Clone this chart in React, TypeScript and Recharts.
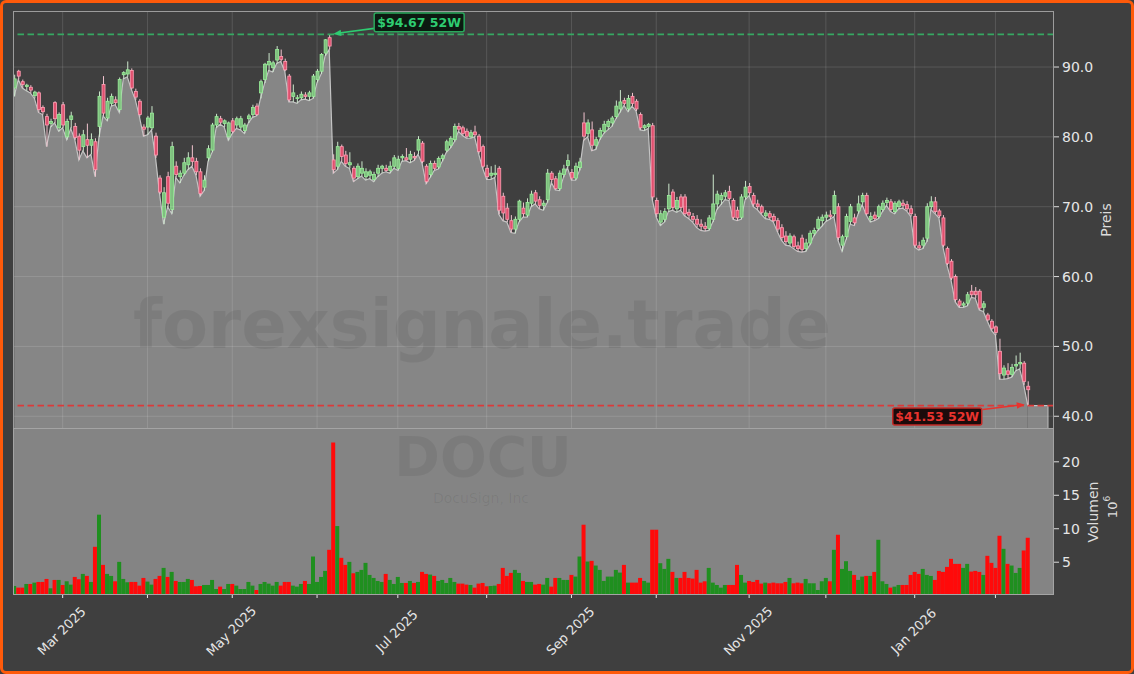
import React from 'react';
import { ComposedChart, Area, Bar, Cell, XAxis, YAxis, ReferenceLine, ReferenceArea, ReferenceDot } from 'recharts';

// DOCU daily candles, Feb 2025 - Feb 2026 (index = trading day)
const opens = [
  87.0, 89.4, 87.9, 87.2, 87.1, 85.9, 86.3, 84.2, 82.9, 81.9,
  84.9, 81.3, 84.6, 80.0, 82.5, 81.5, 80.1, 78.6, 79.6, 78.8,
  79.3, 81.5, 87.5, 82.7, 84.8, 85.3, 83.9, 88.9, 89.0, 89.5,
  86.5, 85.1, 81.4, 81.4, 81.3, 80.1, 74.1, 68.5, 74.3, 69.6,
  75.8, 74.3, 74.8, 76.0, 77.0, 76.5, 75.0, 72.8, 77.0, 78.1,
  81.7, 82.6, 81.9, 80.0, 82.3, 81.7, 81.4, 80.9, 82.6, 83.2,
  84.4, 86.3, 88.2, 90.3, 89.9, 91.0, 91.5, 90.8, 88.7, 85.8,
  85.5, 85.6, 86.0, 85.8, 85.8, 88.2, 89.4, 92.0, 94.2, 76.7,
  75.8, 78.6, 77.4, 76.0, 75.5, 74.3, 74.8, 74.3, 74.5, 73.9,
  74.8, 75.5, 75.5, 75.2, 75.8, 75.5, 77.0, 77.0, 76.8, 77.2,
  78.1, 79.1, 75.8, 74.6, 76.2, 75.7, 76.9, 78.1, 78.8, 79.6,
  81.5, 81.3, 80.8, 80.0, 80.7, 80.1, 78.6, 75.5, 74.5, 74.6,
  75.5, 71.5, 69.8, 68.0, 66.8, 68.2, 69.8, 68.8, 70.5, 72.0,
  71.0, 70.2, 71.0, 74.8, 74.0, 72.6, 74.6, 75.9, 74.9, 74.1,
  75.6, 82.0, 80.5, 81.0, 78.8, 80.0, 80.8, 81.5, 82.0, 82.9,
  84.0, 85.2, 84.0, 85.8, 85.1, 83.2, 81.3, 81.5, 81.6, 70.9,
  67.8, 68.2, 69.7, 72.1, 69.7, 71.4, 71.4, 69.2, 68.6, 68.2,
  67.5, 67.2, 66.9, 68.2, 70.4, 71.0, 71.5, 72.2, 70.9, 69.5,
  68.5, 71.4, 72.9, 71.6, 70.4, 70.0, 68.7, 69.0, 68.6, 68.0,
  67.0, 65.8, 64.8, 65.7, 64.4, 65.5, 64.0, 64.8, 66.2, 66.9,
  68.0, 68.5, 68.8, 69.0, 70.0, 64.5, 65.7, 67.9, 68.4, 69.4,
  70.7, 71.6, 68.2, 68.8, 68.6, 69.6, 70.6, 70.7, 69.3, 70.0,
  70.5, 70.3, 69.7, 68.6, 64.4, 64.5, 65.5, 70.0, 70.7, 69.4,
  68.4, 64.0, 62.2, 60.0, 56.5, 55.9, 56.2, 57.9, 57.9, 57.9,
  55.6, 54.5, 53.6, 52.8, 49.3, 45.9, 46.5, 46.0, 47.2, 47.5,
  47.6, 44.3,
];

const highs = [
  88.9, 89.6, 88.2, 87.6, 87.4, 86.6, 86.5, 84.5, 83.3, 82.6,
  85.1, 83.5, 85.0, 82.6, 83.6, 82.0, 80.5, 81.0, 81.9, 80.5,
  79.8, 86.5, 88.7, 85.6, 86.2, 85.8, 88.5, 89.4, 90.8, 89.8,
  86.9, 85.4, 81.8, 83.0, 84.4, 80.6, 74.5, 72.8, 75.0, 79.3,
  76.5, 75.2, 77.0, 77.8, 78.8, 77.0, 75.5, 74.5, 78.8, 82.0,
  83.3, 83.0, 82.5, 82.2, 82.7, 82.9, 83.0, 82.0, 83.3, 84.6,
  84.8, 88.2, 90.6, 92.0, 90.9, 93.0, 92.5, 91.2, 89.0, 87.5,
  86.0, 86.5, 86.4, 86.6, 89.0, 89.7, 92.0, 94.0, 94.67, 77.5,
  79.3, 78.9, 78.0, 77.8, 75.8, 76.2, 76.5, 75.5, 75.3, 75.0,
  76.0, 76.0, 76.0, 76.5, 77.4, 77.3, 77.5, 78.4, 78.0, 77.8,
  80.1, 79.4, 76.1, 76.6, 76.6, 77.2, 77.6, 79.6, 80.1, 81.9,
  82.0, 81.6, 81.2, 81.0, 81.6, 80.4, 78.9, 76.0, 75.8, 76.0,
  75.8, 72.0, 70.5, 68.8, 68.6, 71.0, 70.6, 71.2, 72.3, 72.4,
  71.5, 70.9, 75.4, 75.1, 74.4, 75.2, 76.0, 77.5, 75.4, 76.3,
  77.0, 83.5, 82.5, 82.2, 80.0, 81.3, 82.3, 82.5, 83.0, 85.2,
  86.7, 85.6, 86.0, 86.3, 85.4, 83.5, 81.8, 82.0, 82.0, 71.3,
  69.5, 69.8, 73.3, 72.5, 71.4, 71.8, 71.8, 69.7, 69.1, 68.8,
  68.2, 67.8, 68.8, 74.6, 72.3, 72.0, 72.4, 73.0, 71.2, 70.0,
  71.8, 73.7, 73.4, 72.0, 71.0, 70.3, 69.5, 69.4, 69.0, 68.4,
  67.5, 66.5, 66.2, 66.0, 65.0, 66.0, 65.4, 66.6, 67.0, 68.6,
  68.9, 69.3, 69.5, 72.3, 70.5, 66.0, 69.0, 70.4, 69.0, 71.6,
  72.0, 72.0, 69.2, 69.3, 70.3, 70.9, 71.3, 71.1, 70.8, 71.0,
  71.0, 70.8, 70.2, 69.0, 65.0, 65.6, 70.5, 71.5, 71.4, 69.7,
  68.8, 64.3, 62.5, 60.3, 56.8, 56.4, 57.8, 58.8, 58.5, 58.2,
  56.5, 54.8, 53.9, 53.0, 51.1, 47.3, 47.6, 47.5, 48.7, 49.1,
  47.9, 45.0,
];

const lows = [
  85.8, 88.2, 87.0, 86.6, 86.3, 85.5, 83.5, 83.2, 78.6, 81.4,
  82.0, 80.8, 81.3, 79.6, 81.2, 79.6, 76.7, 78.0, 77.0, 77.5,
  74.3, 80.0, 83.0, 82.3, 84.4, 84.6, 83.5, 88.3, 88.6, 86.8,
  85.3, 82.9, 80.1, 80.3, 81.0, 77.0, 71.8, 67.5, 70.0, 69.0,
  74.2, 73.4, 74.5, 75.3, 75.8, 74.5, 71.5, 72.3, 76.5, 77.8,
  81.3, 81.8, 81.4, 79.5, 80.5, 81.2, 81.0, 80.5, 82.0, 82.8,
  83.0, 85.5, 87.7, 89.5, 89.3, 90.5, 90.8, 89.4, 85.0, 85.0,
  84.8, 85.3, 85.4, 85.2, 85.5, 87.8, 89.0, 91.6, 92.5, 74.8,
  75.3, 76.5, 75.8, 75.5, 73.6, 74.0, 74.4, 73.8, 74.0, 73.6,
  74.3, 74.8, 75.0, 74.8, 75.5, 75.2, 76.5, 76.6, 76.3, 76.6,
  77.5, 76.2, 73.3, 74.2, 75.2, 75.4, 76.5, 77.8, 78.4, 79.3,
  80.8, 80.2, 79.8, 79.8, 80.0, 77.6, 75.5, 73.9, 73.9, 74.2,
  68.9, 68.0, 67.8, 66.3, 66.2, 67.8, 68.5, 68.5, 70.0, 70.4,
  69.7, 69.5, 70.6, 73.5, 72.4, 72.3, 74.2, 75.6, 73.8, 73.8,
  75.2, 79.5, 80.0, 78.0, 78.2, 79.6, 80.5, 81.0, 81.5, 82.6,
  83.5, 84.5, 83.6, 84.4, 83.7, 81.0, 80.9, 81.2, 71.0, 68.5,
  67.3, 67.8, 69.3, 69.5, 69.2, 69.5, 68.7, 68.3, 67.8, 67.0,
  66.6, 66.5, 66.6, 67.8, 69.6, 70.3, 71.0, 70.9, 68.2, 68.0,
  68.2, 71.0, 71.6, 70.0, 69.6, 68.9, 68.3, 68.2, 67.8, 66.4,
  65.2, 64.5, 64.4, 64.0, 63.6, 63.5, 63.6, 64.5, 65.8, 66.6,
  67.2, 67.9, 68.2, 68.6, 65.2, 63.6, 65.3, 67.5, 67.3, 69.0,
  70.3, 68.8, 67.8, 68.0, 68.3, 69.3, 70.2, 69.3, 69.0, 69.7,
  69.8, 69.4, 68.6, 64.2, 63.8, 64.0, 65.0, 69.6, 69.0, 68.4,
  64.2, 61.6, 59.5, 56.4, 55.6, 55.6, 55.8, 57.0, 56.9, 55.2,
  55.0, 53.6, 52.3, 51.6, 45.3, 45.3, 45.4, 45.6, 46.5, 46.8,
  44.5, 41.53,
];

const closes = [
  88.3, 88.7, 87.5, 87.4, 86.7, 86.4, 83.9, 83.6, 81.7, 82.2,
  82.6, 83.2, 81.7, 82.2, 83.0, 79.9, 78.1, 80.3, 78.8, 79.6,
  75.3, 85.8, 83.4, 85.1, 85.8, 84.9, 88.2, 89.2, 89.6, 87.0,
  85.7, 83.2, 81.1, 82.7, 83.4, 77.4, 72.1, 72.0, 70.5, 78.6,
  74.6, 74.8, 76.3, 77.0, 76.5, 75.0, 71.9, 73.8, 78.3, 81.7,
  82.9, 82.1, 82.3, 82.0, 80.8, 82.6, 82.6, 81.7, 83.0, 84.2,
  83.2, 87.9, 90.4, 90.8, 90.6, 92.5, 91.1, 89.6, 85.3, 86.3,
  85.6, 86.1, 85.8, 86.3, 88.7, 89.4, 91.8, 93.9, 93.0, 75.3,
  78.6, 77.2, 76.2, 76.3, 74.1, 75.8, 75.5, 75.0, 75.0, 74.6,
  75.5, 75.8, 75.2, 75.8, 77.0, 76.8, 77.2, 76.7, 77.5, 77.0,
  79.6, 76.5, 73.6, 76.2, 75.5, 76.9, 77.3, 79.3, 79.8, 81.5,
  81.1, 80.5, 80.1, 80.6, 80.3, 77.9, 75.8, 74.3, 74.8, 74.8,
  69.5, 69.1, 68.2, 66.8, 68.2, 70.8, 69.0, 70.6, 71.8, 70.8,
  70.2, 70.5, 74.8, 73.9, 72.6, 74.8, 75.4, 76.6, 74.1, 75.8,
  76.4, 80.1, 82.0, 78.8, 79.6, 80.9, 81.8, 82.2, 82.7, 84.4,
  85.0, 84.8, 85.5, 84.8, 84.0, 81.3, 81.6, 81.8, 71.4, 69.0,
  69.0, 69.3, 71.6, 69.9, 70.9, 69.9, 69.0, 68.8, 68.2, 67.5,
  67.2, 66.9, 68.4, 70.4, 71.8, 71.6, 72.0, 71.2, 68.5, 68.4,
  71.4, 72.8, 72.0, 70.4, 70.0, 69.2, 69.1, 68.5, 68.0, 66.8,
  65.6, 65.0, 65.8, 64.3, 64.0, 63.9, 64.8, 66.2, 66.6, 68.2,
  68.5, 68.8, 68.6, 71.6, 65.6, 65.7, 68.6, 70.0, 67.7, 70.4,
  71.6, 69.0, 68.6, 68.3, 70.0, 70.5, 70.9, 69.6, 70.5, 70.7,
  70.2, 69.7, 69.0, 64.5, 64.1, 65.2, 70.0, 70.7, 69.3, 68.7,
  64.5, 61.9, 59.8, 56.7, 55.9, 56.1, 57.4, 57.4, 57.4, 55.5,
  56.1, 53.8, 52.6, 52.0, 46.1, 46.9, 46.0, 47.0, 47.4, 47.7,
  45.0, 43.8,
];

// volume in millions
const volumes = [
  1.45, 1.2, 1.2, 1.75, 1.75, 1.95, 2.05, 2.05, 2.5, 1.1,
  2.35, 2.35, 1.6, 2.15, 1.65, 2.8, 2.45, 3.25, 2.95, 2.05,
  7.3, 12.1, 4.6, 3.25, 2.95, 2.15, 5.05, 2.5, 2.0, 2.05,
  2.05, 1.5, 2.65, 2.1, 1.65, 2.5, 2.95, 4.15, 2.8, 3.55,
  2.2, 2.05, 2.05, 2.5, 2.35, 1.4, 1.45, 1.6, 1.6, 2.35,
  1.0, 1.35, 1.0, 1.75, 1.75, 1.5, 1.0, 1.0, 2.05, 1.5,
  0.85, 1.75, 2.05, 1.8, 1.5, 2.05, 1.5, 2.05, 2.05, 1.5,
  1.35, 1.75, 2.2, 1.75, 5.85, 2.05, 2.8, 3.7, 6.85, 22.9,
  10.4, 5.65, 4.6, 5.05, 3.35, 3.55, 3.85, 4.9, 3.1, 2.65,
  2.2, 2.05, 3.25, 2.35, 1.75, 2.8, 1.9, 1.9, 2.2, 1.9,
  2.05, 3.55, 3.25, 3.15, 2.95, 2.2, 2.35, 1.9, 2.65, 2.05,
  1.8, 1.8, 1.65, 1.6, 1.2, 1.8, 1.9, 1.4, 1.45, 1.5,
  1.75, 4.15, 2.95, 3.4, 3.85, 3.4, 2.2, 2.05, 2.05, 1.65,
  1.75, 1.65, 2.65, 1.35, 2.65, 2.65, 2.35, 2.35, 3.1, 2.85,
  5.85, 10.6, 5.1, 5.2, 4.5, 3.85, 2.2, 2.85, 2.85, 3.85,
  3.45, 4.6, 1.95, 1.95, 1.95, 2.65, 2.2, 1.95, 9.85, 9.85,
  4.85, 4.0, 5.5, 3.55, 2.65, 2.65, 3.55, 2.65, 2.55, 3.85,
  1.95, 2.15, 4.15, 1.95, 1.6, 1.2, 1.6, 1.6, 1.6, 4.6,
  3.1, 1.95, 2.2, 2.05, 2.35, 1.8, 1.95, 1.85, 1.95, 1.85,
  1.85, 2.05, 2.65, 1.85, 1.95, 1.85, 2.5, 1.85, 1.85, 0.85,
  2.15, 2.65, 2.15, 6.85, 9.1, 4.0, 5.15, 3.7, 3.1, 2.35,
  2.85, 2.95, 2.95, 3.55, 8.35, 2.15, 1.75, 1.2, 1.35, 1.6,
  1.6, 1.6, 3.1, 3.55, 3.25, 4.0, 3.1, 2.95, 2.35, 3.7,
  3.55, 4.3, 5.5, 4.75, 4.75, 4.15, 4.75, 3.6, 3.7, 3.55,
  3.1, 5.95, 4.9, 4.15, 8.95, 7.0, 4.75, 4.5, 3.4, 4.15,
  6.75, 8.65,
];

// first trading day of each month
const monthTicks = [12, 33, 54, 75, 95, 117, 138, 159, 182, 201, 223, 243];
const monthLabels = ['Mar 2025', '', 'May 2025', '', 'Jul 2025', '', 'Sep 2025', '', 'Nov 2025', '', 'Jan 2026', ''];
const priceTicks = [40, 50, 60, 70, 80, 90];
const volumeTicks = [5, 10, 15, 20];

const rows = opens.map((o, i) => ({ i, o, h: highs[i], l: lows[i], c: closes[i], v: volumes[i] }));
const lastIndex = rows.length - 1;
const tailEnd = lastIndex + 5;
const high52 = Math.max(...highs);
const low52 = Math.min(...lows);
const highIndex = highs.indexOf(high52);
const lowIndex = lows.indexOf(low52);

const xDomain: [number, number] = [-0.3, 257.5];
const priceDomain: [number, number] = [38.32, 98.02];
const volumeDomain: [number, number] = [0.25, 24.9];

const FONT = 'DejaVu Sans';
const BG = '#3f3f3f';
const AREA = '#868686';
const GRID = 'rgba(255,255,255,0.13)';

const arrowHead = (x1: number, y1: number, x2: number, y2: number, len = 8, half = 3.2) => {
  const dx = x2 - x1, dy = y2 - y1;
  const d = Math.hypot(dx, dy);
  const ux = dx / d, uy = dy / d;
  const bx = x2 - ux * len, by = y2 - uy * len;
  return `${x2},${y2} ${bx - uy * half},${by + ux * half} ${bx + uy * half},${by - ux * half}`;
};

const Candle = (props: any) => {
  const { x, y, width, height, payload } = props;
  if (!payload || height == null) return null;
  const { o, h, l, c } = payload;
  const span = h - l || 1;
  const toY = (v: number) => y + ((h - v) / span) * height;
  const up = c >= o;
  const top = toY(Math.max(o, c));
  const bot = toY(Math.min(o, c));
  const mid = x + width / 2;
  return (
    <g>
      <line x1={mid} x2={mid} y1={y} y2={y + height} stroke={up ? '#cde8cd' : '#f2c4cf'} strokeWidth={1} />
      <rect
        x={x}
        y={top}
        width={width}
        height={Math.max(bot - top, 0.8)}
        fill={up ? '#7fbf7f' : '#e0506e'}
        stroke={up ? '#9af09a' : '#ff9fb4'}
        strokeWidth={0.8}
      />
    </g>
  );
};

const HighNote = (props: any) => {
  const { cx, cy } = props;
  const bx = cx + 45, by = cy - 21.4, bw = 90, bh = 18.7;
  const sx = bx, sy = cy - 6, tx = cx + 4, ty = cy - 0.5;
  return (
    <g>
      <line x1={sx} y1={sy} x2={tx + 6} y2={ty - 0.9} stroke="#2ecc71" strokeWidth={1.6} />
      <polygon points={arrowHead(sx, sy, tx, ty)} fill="#2ecc71" />
      <rect x={bx} y={by} width={bw} height={bh} rx={2} fill="#0c1a11" stroke="#2aa85c" strokeWidth={1.5} />
      <text x={bx + bw / 2} y={by + bh / 2 + 0.5} textAnchor="middle" dominantBaseline="central" fill="#2ecc71" fontSize={12.5} fontWeight="bold" fontFamily={FONT}>
        {`$${high52.toFixed(2)} 52W`}
      </text>
    </g>
  );
};

const LowNote = (props: any) => {
  const { cx, cy } = props;
  const bx = cx - 135, by = cy + 2.4, bw = 89, bh = 17;
  const sx = cx - 45, sy = cy + 4, tx = cx - 3, ty = cy - 1;
  return (
    <g>
      <line x1={sx} y1={sy} x2={tx - 6} y2={ty + 0.6} stroke="#e8332e" strokeWidth={1.6} />
      <polygon points={arrowHead(sx, sy, tx, ty)} fill="#e8332e" />
      <rect x={bx} y={by} width={bw} height={bh} rx={2} fill="#1c0b0b" stroke="#c22a26" strokeWidth={1.5} />
      <text x={bx + bw / 2} y={by + bh / 2 + 0.5} textAnchor="middle" dominantBaseline="central" fill="#e8332e" fontSize={12.5} fontWeight="bold" fontFamily={FONT}>
        {`$${low52.toFixed(2)} 52W`}
      </text>
    </g>
  );
};

const MonthTick = (props: any) => {
  const { x, y, payload } = props;
  const label = monthLabels[monthTicks.indexOf(payload.value)];
  if (!label) return <g />;
  const cy = y + 31;
  return (
    <text x={x - 1} y={cy} transform={`rotate(-45 ${x - 1} ${cy})`} textAnchor="middle" dominantBaseline="central" fill="#e6e6e6" fontSize={13} fontFamily={FONT}>
      {label}
    </text>
  );
};

const yTick = { fill: '#e6e6e6', fontSize: 14, fontFamily: FONT };

export default function App() {
  return (
    <div style={{ position: 'absolute', left: 0, top: 0, width: 1134, height: 674, background: BG, overflow: 'hidden', fontFamily: FONT }}>
      <div style={{ position: 'absolute', left: 13, top: 429, width: 1041, height: 165, background: '#848484' }} />

      <div style={{ position: 'absolute', left: 0, top: 0 }}>
        <ComposedChart width={1134} height={430} data={rows} margin={{ top: 11, right: 0, bottom: 2, left: 13 }}>
          <XAxis type="number" dataKey="i" domain={xDomain} hide allowDataOverflow />
          <YAxis
            orientation="right"
            domain={priceDomain}
            ticks={priceTicks}
            interval={0}
            allowDataOverflow
            width={80}
            axisLine={false}
            tickLine={{ stroke: '#dcdcdc' }}
            tickSize={5}
            tickMargin={3}
            tick={yTick}
            tickFormatter={(v: number) => v.toFixed(1)}
          />
          <Area type="linear" dataKey="l" stroke="#c4c4c4" strokeWidth={1.2} fill={AREA} fillOpacity={1} isAnimationActive={false} dot={false} activeDot={false} />
          <ReferenceArea x1={lastIndex} x2={tailEnd} y1={priceDomain[0]} y2={low52} fill={AREA} fillOpacity={1} stroke="none" />
          <ReferenceLine segment={[{ x: lastIndex, y: low52 }, { x: tailEnd, y: low52 }]} stroke="#c4c4c4" strokeWidth={1.2} />
          <ReferenceLine segment={[{ x: tailEnd, y: priceDomain[0] }, { x: tailEnd, y: low52 }]} stroke="#b4b4b4" strokeWidth={1.2} />
          {monthTicks.map((t) => (
            <ReferenceLine key={`gx${t}`} x={t} stroke={GRID} strokeWidth={1} />
          ))}
          {priceTicks.map((t) => (
            <ReferenceLine key={`gy${t}`} y={t} stroke={GRID} strokeWidth={1} />
          ))}
          <ReferenceLine y={high52} stroke="#36a862" strokeWidth={1.6} strokeDasharray="6.5 3.5" />
          <ReferenceLine y={low52} stroke="#dc3a3a" strokeWidth={1.6} strokeDasharray="6.5 3.5" />
          <Bar dataKey={(d: any) => [d.l, d.h]} barSize={3} shape={(p: any) => <Candle {...p} />} isAnimationActive={false} />
          <ReferenceDot x={highIndex} y={high52} r={1} shape={(p: any) => <HighNote {...p} />} />
          <ReferenceDot x={lowIndex} y={low52} r={1} shape={(p: any) => <LowNote {...p} />} />
        </ComposedChart>
      </div>

      <div style={{ position: 'absolute', left: 0, top: 429 }}>
        <ComposedChart width={1134} height={245} data={rows} margin={{ top: 0, right: 0, bottom: 0, left: 13 }}>
          <XAxis
            type="number"
            dataKey="i"
            domain={xDomain}
            allowDataOverflow
            ticks={monthTicks}
            interval={0}
            height={80}
            axisLine={false}
            tickLine={{ stroke: '#e8e8e8' }}
            tickSize={4}
            tickMargin={2}
            tick={(p: any) => <MonthTick {...p} />}
          />
          <YAxis
            orientation="right"
            domain={volumeDomain}
            ticks={volumeTicks}
            interval={0}
            allowDataOverflow
            width={80}
            axisLine={false}
            tickLine={{ stroke: '#dcdcdc' }}
            tickSize={5}
            tickMargin={3}
            tick={yTick}
          />
          <Bar dataKey="v" barSize={4} isAnimationActive={false}>
            {rows.map((d) => (
              <Cell key={d.i} fill={d.c >= d.o ? '#1f8f1f' : '#ff0a0a'} />
            ))}
          </Bar>
        </ComposedChart>
      </div>

      <svg width={1134} height={674} style={{ position: 'absolute', left: 0, top: 0, pointerEvents: 'none' }}>
        <text x={482} y={348} textAnchor="middle" fontSize={67} fontWeight="bold" fontFamily={FONT} fill="#000" fillOpacity={0.07}>
          forexsignale.trade
        </text>
        <text x={483} y={476} textAnchor="middle" fontSize={55} fontWeight="bold" fontFamily={FONT} fill="#000" fillOpacity={0.065}>
          DOCU
        </text>
        <text x={481} y={503} textAnchor="middle" fontSize={14} fontFamily={FONT} fill="#000" fillOpacity={0.065}>
          DocuSign, Inc
        </text>
        <text x={1106} y={220} transform="rotate(-90 1106 220)" textAnchor="middle" dominantBaseline="central" fontSize={14} fontFamily={FONT} fill="#dcdcdc">
          Preis
        </text>
        <text x={1093} y={512} transform="rotate(-90 1093 512)" textAnchor="middle" dominantBaseline="central" fontSize={14} fontFamily={FONT} fill="#dcdcdc">
          Volumen
        </text>
        <text x={1112} y={507} transform="rotate(-90 1112 507)" textAnchor="middle" dominantBaseline="central" fontSize={13} fontFamily={FONT} fill="#dcdcdc">
          10<tspan dy={-5} fontSize={9}>6</tspan>
        </text>
      </svg>

      <div style={{ position: 'absolute', left: 13, top: 11, width: 1041, height: 418, boxSizing: 'border-box', border: '1px solid #9c9c9c', pointerEvents: 'none' }} />
      <div style={{ position: 'absolute', left: 13, top: 428, width: 1041, height: 167, boxSizing: 'border-box', border: '1px solid #a4a4a4', pointerEvents: 'none' }} />
      <div style={{ position: 'absolute', left: 0, top: 0, width: 1134, height: 674, boxSizing: 'border-box', border: '3px solid #ff5a0a', borderRadius: 6, pointerEvents: 'none' }} />
    </div>
  );
}
